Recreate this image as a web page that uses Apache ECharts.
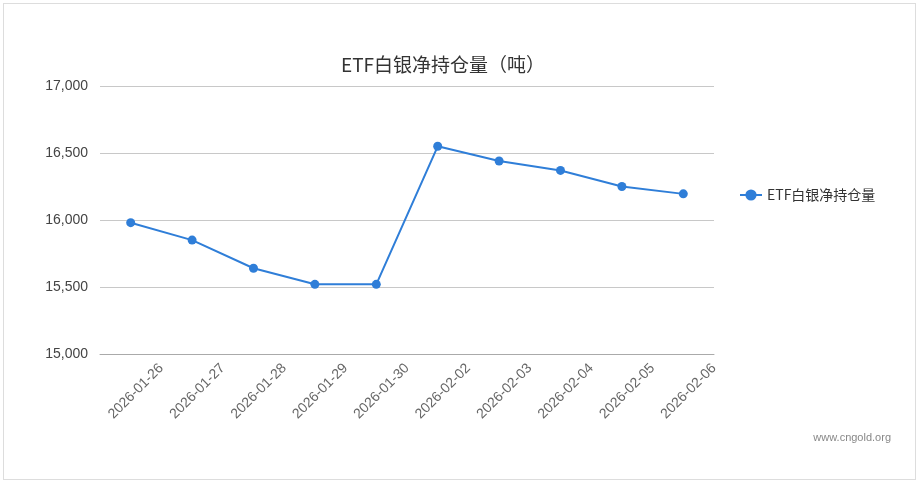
<!DOCTYPE html>
<html>
<head>
<meta charset="utf-8">
<script src="https://cdn.jsdelivr.net/npm/echarts@6/dist/echarts.min.js"></script>
<style>
  body { margin: 0; background: #fff; }
  #chart { position: absolute; left: 3px; top: 3px; width: 913px; height: 477px; border: 1px solid #ddd; box-sizing: border-box; }
</style>
</head>
<body>
<div id="chart"></div>
<script>
  // 日期与持仓量（吨）
  var dates = ['2026-01-26', '2026-01-27', '2026-01-28', '2026-01-29', '2026-01-30',
               '2026-02-02', '2026-02-03', '2026-02-04', '2026-02-05', '2026-02-06'];
  var holdings = [15980, 15850, 15640, 15520, 15520, 16550, 16440, 16370, 16250, 16195];
  var seriesName = 'ETF白银净持仓量';

  var myChart = echarts.init(document.getElementById('chart'));
  myChart.setOption({
    animation: false,
    title: {
      text: 'ETF白银净持仓量（吨）',
      left: 434,
      top: 46,
      textAlign: 'center',
      textStyle: { fontSize: 19, fontWeight: 'normal', color: '#333', fontFamily: 'Noto Sans CJK SC' }
    },
    legend: {
      data: [seriesName],
      orient: 'vertical',
      left: 730,
      top: 179,
      itemWidth: 22,
      textStyle: { fontSize: 14, color: '#333', fontFamily: 'Noto Sans CJK SC' }
    },
    grid: { left: 96, top: 82, width: 614, height: 268 },
    xAxis: [{
      type: 'category',
      data: dates,
      boundaryGap: true,
      axisLine: { lineStyle: { color: '#aaa', width: 1 } },
      axisTick: { lineStyle: { color: '#aaa' }, length: 6 },
      axisLabel: { show: false }
    }, {
      // 标签对齐到刻度（分类边界）
      type: 'category',
      position: 'bottom',
      data: [''].concat(dates),
      boundaryGap: false,
      axisLine: { show: false },
      axisTick: { show: false },
      axisLabel: { rotate: 45, color: '#666', fontSize: 14, margin: 12, interval: 0 }
    }],
    yAxis: {
      type: 'value',
      min: 15000,
      max: 17000,
      interval: 500,
      axisLine: { show: false },
      axisTick: { show: false },
      axisLabel: { color: '#444', fontSize: 14, margin: 12 },
      splitLine: { lineStyle: { color: '#c8c8c8' } }
    },
    series: [{
      name: seriesName,
      type: 'line',
      data: holdings,
      symbol: 'circle',
      symbolSize: 9,
      color: '#2f7ed8',
      lineStyle: { width: 2 }
    }],
    graphic: [{
      type: 'text',
      right: 24,
      bottom: 36,
      style: { text: 'www.cngold.org', fill: '#888', fontSize: 11 }
    }]
  });
</script>
</body>
</html>
